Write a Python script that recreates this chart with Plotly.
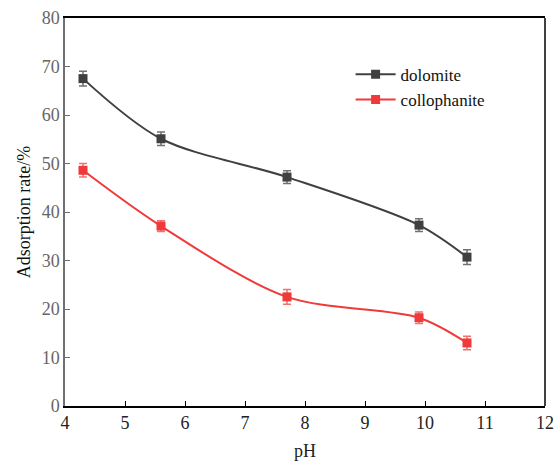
import plotly.graph_objects as go

ph = [4.3, 5.6, 7.7, 9.9, 10.7]
dolomite = [67.5, 55.1, 47.2, 37.3, 30.7]
dolomite_err = [1.5, 1.4, 1.3, 1.3, 1.5]
collophanite = [48.6, 37.1, 22.5, 18.2, 13.0]
collophanite_err = [1.4, 1.1, 1.5, 1.2, 1.4]

FONT = "'Liberation Serif', 'Times New Roman', Times, serif"

fig = go.Figure()
fig.add_trace(go.Scatter(
    x=ph, y=dolomite, name="dolomite", mode="lines+markers",
    line=dict(color="#404040", width=2, shape="spline", smoothing=0.9),
    marker=dict(symbol="square", size=9, color="#404040"),
    error_y=dict(type="data", array=dolomite_err, color="#707070", thickness=1.5, width=4),
))
fig.add_trace(go.Scatter(
    x=ph, y=collophanite, name="collophanite", mode="lines+markers",
    line=dict(color="#f03a3a", width=2, shape="spline", smoothing=0.9),
    marker=dict(symbol="square", size=9, color="#f03a3a"),
    error_y=dict(type="data", array=collophanite_err, color="#f37070", thickness=1.5, width=4),
))

fig.add_shape(type="line", xref="paper", yref="paper", x0=1, x1=1, y0=0, y1=1,
              line=dict(color="black", width=1.5))

fig.update_layout(
    width=560, height=466,
    margin=dict(l=65, r=15, t=18, b=60),
    plot_bgcolor="white", paper_bgcolor="white",
    font=dict(family=FONT, size=17, color="#222"),
    showlegend=True,
    legend=dict(x=0.595, y=0.9, xanchor="left", yanchor="top",
                bgcolor="rgba(0,0,0,0)", font=dict(family=FONT, size=17, color="#111"),
                tracegroupgap=2, itemwidth=40),
    xaxis=dict(range=[4, 12], dtick=1, tick0=4, showline=True, linecolor="black", linewidth=1.5,
               mirror=True, ticks="inside", ticklen=5, tickcolor="black", showgrid=False,
               zeroline=False, automargin=False, tickfont=dict(family=FONT, size=18, color="#222"),
               title=dict(text="pH", font=dict(family=FONT, size=18, color="#222"), standoff=12)),
    yaxis=dict(range=[0, 80], dtick=10, showline=True, linecolor="#707070", linewidth=1.5,
               ticks="inside", ticklen=5, tickcolor="#707070", showgrid=False, zeroline=False,
               automargin=False, tickfont=dict(family=FONT, size=18, color="#666"),
               title=dict(text="Adsorption rate/%", font=dict(family=FONT, size=18, color="#111"), standoff=6)),
)

fig.write_html("out.html")
